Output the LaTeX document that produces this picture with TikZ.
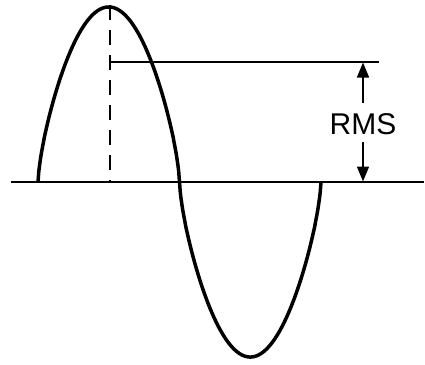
\documentclass[tikz,border=0pt]{standalone}
\usepackage{fontspec}
\setmainfont{Liberation Sans}
\usetikzlibrary{arrows.meta}
\begin{document}
\begin{tikzpicture}[x=1bp,y=-1bp,
  wave/.style={line width=3.5bp,line join=round},
  axisline/.style={line width=1.5bp},
  dashline/.style={line width=2bp,dash pattern=on 15bp off 10bp},
  dimarrow/.style={line width=1.6bp,-{Triangle[length=15bp,width=12bp]}},
  label/.style={font=\fontsize{30bp}{32bp}\selectfont,inner sep=1bp}]
\useasboundingbox (0,0) rectangle (425,365);
% axis
\coordinate (axL) at (11,182);
\coordinate (axR) at (424,182);
\draw[axisline] (axL) -- (axR);
% rounded sine wave
\draw[wave] plot[domain=0:360,samples=361] ({38+\x/360*283},{182-175*sign(sin(\x))*pow(abs(sin(\x)),0.7)});
% dashed peak line
\coordinate (pk) at (109.75,5);
\coordinate (pkb) at (109.75,182);
\draw[dashline] (pk) -- (pkb);
% RMS level line
\coordinate (rmsL) at (110,62);
\coordinate (rmsR) at (379,62);
\draw[axisline] (rmsL) -- (rmsR);
% label and arrows
\node[label] (rms) at (363,124) {RMS};
\coordinate (arTop) at (363,62.5);
\coordinate (arBot) at (363,181.5);
\draw[dimarrow] (rms.north |- 0,103) -- (arTop);
\draw[dimarrow] (rms.south |- 0,142) -- (arBot);
\end{tikzpicture}
\end{document}
